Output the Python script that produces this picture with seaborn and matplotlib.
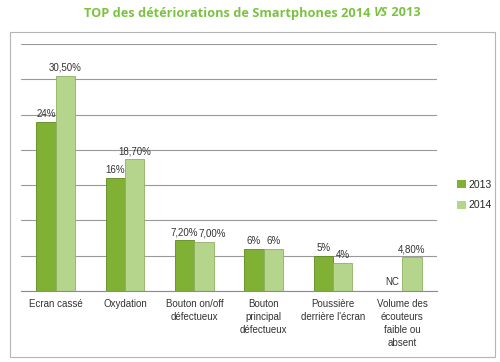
import numpy as np
import pandas as pd
import matplotlib
matplotlib.use("Agg")
import matplotlib.pyplot as plt
import seaborn as sns
from matplotlib.patches import Rectangle

# ── Data ─────────────────────────────────────────────────────────────────────
categories = ["Ecran cassé", "Oxydation", "Bouton on/off\ndéfectueux",
              "Bouton\nprincipal\ndéfectueux", "Poussière\nderrière l'écran",
              "Volume des\nécouteurs\nfaible ou\nabsent"]
values_2013 = [24.0, 16.0, 7.2, 6.0, 5.0, np.nan]
values_2014 = [30.5, 18.7, 7.0, 6.0, 4.0, 4.8]
labels_2013 = ["24%", "16%", "7,20%", "6%", "5%", "NC"]
labels_2014 = ["30,50%", "18,70%", "7,00%", "6%", "4%", "4,80%"]
years = ["2013", "2014"]

df = pd.DataFrame({
    "cat": categories * 2,
    "year": [years[0]] * len(categories) + [years[1]] * len(categories),
    "val": values_2013 + values_2014,
})

COLORS = ["#80b034", "#b5d48c"]
EDGES = ["#5e8a20", "#8fb064"]

sns.set_style("white")
plt.rcParams["font.family"] = ["Liberation Sans", "DejaVu Sans"]

fig = plt.figure(figsize=(5, 3.62), dpi=100)
ax = fig.add_axes([21 / 500, 1 - 291 / 362, (437 - 21) / 500, (291 - 44) / 362])

sns.barplot(data=df, x="cat", y="val", hue="year", order=categories,
            palette=COLORS, width=0.56, gap=0, ax=ax, legend=True,
            edgecolor="none", saturation=1)

# value labels (a missing bar gets None in the container)
label_sets = [labels_2013, labels_2014]
for k, (cont, edge, labs) in enumerate(zip(ax.containers, EDGES, label_sets)):
    for i, p in enumerate(cont):
        if p is None or np.isnan(p.get_height()):
            continue
        p.set_edgecolor(edge)
        p.set_linewidth(0.6)
        # nudge the 2014 label right when both labels are wide
        dx = 6 if (k == 1 and len(labels_2013[i]) > 3 and len(labs[i]) > 3
                   and abs(values_2013[i] - values_2014[i]) < 2) else 0
        ax.annotate(labs[i], (p.get_x() + p.get_width() / 2, p.get_height()),
                    xytext=(dx, 2), textcoords="offset points", ha="center",
                    va="bottom", fontsize=7, color="#333333")

# NC for missing 2013 value
p14 = ax.containers[1][-1]
ax.text(p14.get_x() - p14.get_width() / 2, 1.3, labels_2013[-1], ha="center",
        va="center", fontsize=7, color="#333333")

ax.set_ylim(0, 35)
ax.set_xlim(-0.5, len(categories) - 0.5)
ax.set_yticks(np.arange(0, 36, 5))
ax.set_yticklabels([])
ax.tick_params(axis="y", length=0)
ax.grid(axis="y", color="#999999", linewidth=0.8)
ax.set_axisbelow(True)
for s in ["left", "right", "top"]:
    ax.spines[s].set_visible(False)
ax.spines["bottom"].set_color("#8c8c8c")
ax.spines["bottom"].set_linewidth(0.8)

ax.set_xticks(np.arange(len(categories)))
ax.set_xticklabels(categories, fontsize=7, color="#333333", linespacing=1.35)
ax.set_xticks(np.arange(-0.5, len(categories)), minor=True)
ax.tick_params(axis="x", which="major", length=0, pad=6)
ax.tick_params(axis="x", which="minor", length=4, color="#8c8c8c", width=0.8)
ax.set_xlabel("")
ax.set_ylabel("")

ax.legend(loc="center left", bbox_to_anchor=(448 / 500, 1 - 195 / 362),
          bbox_transform=fig.transFigure, frameon=False, fontsize=7.5,
          handlelength=0.8, handleheight=0.8, handletextpad=0.3, labelspacing=1.0)

# outer frame
fig.add_artist(Rectangle((10 / 500, 1 - 357 / 362), 485 / 500, 325 / 362,
                         transform=fig.transFigure, fill=False,
                         edgecolor="#b5b5b5", linewidth=0.8))

# title with italic "VS"
tcol = "#7cc242"
tkw = dict(fontsize=9.2, fontweight="bold", color=tcol, va="center", ha="left",
           family=["Open Sans", "DejaVu Sans"])
parts = [("TOP des détériorations de Smartphones 2014 ", "normal"),
         ("VS", "italic"), (" 2013", "normal")]
renderer = fig.canvas.get_renderer()
texts = []
for s, st in parts:
    t = fig.text(0, 1 - 13 / 362, s, style=st, **tkw)
    texts.append(t)
widths = [t.get_window_extent(renderer).width for t in texts]
x0 = 252 - sum(widths) / 2
for t, w in zip(texts, widths):
    t.set_x(x0 / 500)
    x0 += w

fig.savefig("out.png", dpi=100)
